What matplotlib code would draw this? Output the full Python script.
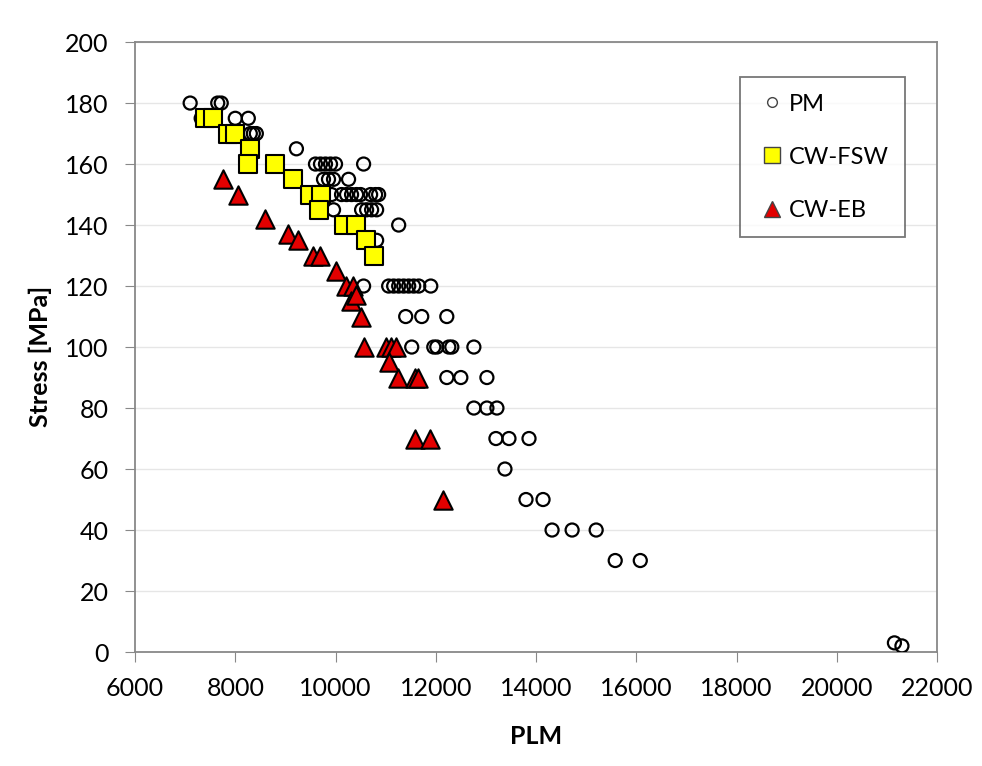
import matplotlib.pyplot as plt
from matplotlib.lines import Line2D

plt.rcParams['font.family'] = ['Lato', 'DejaVu Sans']

# PM (parent material)
pm_x = [7100, 7650, 7720, 7320, 8000, 8260, 8300, 8360, 8420, 9220,
        9600, 9700, 9800, 9900, 10000, 10560,
        9760, 9860, 9960, 10260,
        9920, 10120, 10220, 10320, 10420, 10500, 10700, 10800, 10860,
        9960, 10520, 10620, 10720, 10820,
        11260, 10820,
        10560, 11060, 11160, 11260, 11360, 11460, 11560, 11660, 11900,
        11400, 11720, 12220,
        11520, 11960, 12020, 12260, 12320, 12760,
        12220, 12500, 13020,
        12760, 13020, 13220,
        13200, 13460, 13860,
        13380, 13800, 14140,
        14320, 14720, 15200, 15580, 16080, 21150, 21300]
pm_y = [180, 180, 180, 175, 175, 175, 170, 170, 170, 165,
        160, 160, 160, 160, 160, 160,
        155, 155, 155, 155,
        150, 150, 150, 150, 150, 150, 150, 150, 150,
        145, 145, 145, 145, 145,
        140, 135,
        120, 120, 120, 120, 120, 120, 120, 120, 120,
        110, 110, 110,
        100, 100, 100, 100, 100, 100,
        90, 90, 90,
        80, 80, 80,
        70, 70, 70,
        60, 50, 50,
        40, 40, 40, 30, 30, 3, 2]

# CW-FSW
fsw_x = [7400, 7550, 7850, 8000, 8300, 8260, 8800, 9160, 9500, 9720,
         9680, 10160, 10400, 10600, 10760]
fsw_y = [175, 175, 170, 170, 165, 160, 160, 155, 150, 150,
         145, 140, 140, 135, 130]

# CW-EB
eb_x = [7750, 8050, 8600, 9050, 9250, 9550, 9700, 10000, 10200, 10350,
        10300, 10400, 10500, 10560, 11000, 11100, 11200, 11060, 11250,
        11580, 11650, 11580, 11880, 12140]
eb_y = [155, 150, 142, 137, 135, 130, 130, 125, 120, 120,
        115, 117, 110, 100, 100, 100, 100, 95, 90,
        90, 90, 70, 70, 50]

fig = plt.figure(figsize=(9.82, 7.66), dpi=100)
ax = fig.add_axes([0.1375, 0.1488, 0.8167, 0.7963])

ax.scatter(pm_x, pm_y, s=88, facecolors='none', edgecolors='black', linewidths=1.6, zorder=3)
ax.scatter(fsw_x, fsw_y, s=165, marker='s', facecolors='#FFFF00', edgecolors='black', linewidths=1.5, zorder=4)
ax.scatter(eb_x, eb_y, s=175, marker='^', facecolors='#E30000', edgecolors='black', linewidths=1.5, zorder=5)

ax.set_xlim(6000, 22000)
ax.set_ylim(0, 200)
ax.set_xticks(range(6000, 22001, 2000))
ax.set_yticks(range(0, 201, 20))
ax.grid(axis='y', color='#e6e6e6', linewidth=1)
ax.set_axisbelow(True)
for sp in ax.spines.values():
    sp.set_color('#888888')
    sp.set_linewidth(1.3)
ax.tick_params(direction='out', length=7, color='#888888', labelsize=18)
ax.tick_params(axis='x', pad=11)
ax.tick_params(axis='y', pad=12)

ax.set_xlabel('PLM', fontsize=18, fontweight='bold')
ax.set_ylabel('Stress [MPa]', fontsize=18, fontweight='bold')
ax.xaxis.set_label_coords(0.5, -0.12)
ax.yaxis.set_label_coords(-0.104, 0.485)

handles = [
    Line2D([], [], linestyle='none', marker='o', markersize=7, markerfacecolor='white',
           markeredgecolor='#444444', markeredgewidth=1.0, label='PM'),
    Line2D([], [], linestyle='none', marker='s', markersize=11, markerfacecolor='#FFFF00',
           markeredgecolor='#444444', markeredgewidth=1.0, label='CW-FSW'),
    Line2D([], [], linestyle='none', marker='^', markersize=11, markerfacecolor='#E30000',
           markeredgecolor='#444444', markeredgewidth=1.0, label='CW-EB'),
]
leg = ax.legend(handles=handles, loc='upper right', bbox_to_anchor=(0.960, 0.9426),
                fontsize=17, frameon=True, fancybox=False, handletextpad=0.05,
                handlelength=1.3, labelspacing=1.36, borderpad=0.7, borderaxespad=0)
leg.get_frame().set_edgecolor('#555555')
leg.get_frame().set_linewidth(1.3)

fig.savefig('out.png', dpi=100)
